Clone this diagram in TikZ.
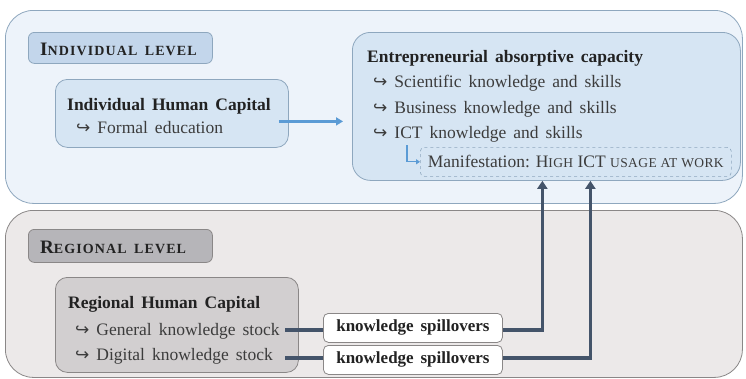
\documentclass[tikz,border=0pt]{standalone}
\usepackage{fontspec}
\setmainfont[WordSpace=1.6]{Liberation Serif}
\newfontfamily\manfont[WordSpace=1.0]{Liberation Serif}
\newfontfamily\symfont{DejaVu Sans}
\usetikzlibrary{arrows.meta}
\definecolor{bluepanel}{HTML}{EDF3FA}
\definecolor{blueborder}{HTML}{8EA7BE}
\definecolor{bluebox}{HTML}{D6E5F3}
\definecolor{bluelabel}{HTML}{C3D6EB}
\definecolor{graypanel}{HTML}{ECE9E9}
\definecolor{grayborder}{HTML}{8A8787}
\definecolor{graylabel}{HTML}{B6B5B9}
\definecolor{graybox}{HTML}{D2CFD0}
\definecolor{darkline}{HTML}{44546A}
\definecolor{bluearrow}{HTML}{5B9BD5}
\definecolor{txt}{HTML}{3C3C3C}
\definecolor{txtb}{HTML}{222222}
\newcommand{\sct}[1]{{\fontsize{14}{16}\selectfont\addfontfeatures{LetterSpace=8}#1}}
\newcommand{\scm}[1]{{\fontsize{13.5}{16}\selectfont\addfontfeatures{LetterSpace=3}#1}}
\newcommand{\hk}{{\symfont\fontsize{17}{15}\selectfont\color{txt}↪}}
\begin{document}
\begin{tikzpicture}[x=1pt,y=-1pt,
  font=\fontsize{17.5}{20}\selectfont,
  panel/.style={draw, line width=0.8pt, inner sep=0pt, anchor=north west},
  lbl/.style={anchor=base west, inner sep=0pt, text=txt},
  lblb/.style={anchor=base west, inner sep=0pt, text=txtb, font=\fontsize{17.5}{20}\selectfont\bfseries},
  bluearr/.style={draw=bluearrow, line width=2.5pt, -{Triangle[width=8pt,length=7pt]}},
  darkarr/.style={draw=darkline, line width=3.5pt, -{Triangle[width=10pt,length=8pt]}},
  darkln/.style={draw=darkline, line width=3.5pt},
  spill/.style={panel, fill=white, draw=grayborder, rounded corners=5pt, minimum width=179pt, minimum height=29pt, text=txtb, font=\fontsize{17}{20}\selectfont\bfseries}
]
\useasboundingbox (0,0) rectangle (746,378);
\fill[white] (0,0) rectangle (746,378);

% panels
\node[panel, fill=bluepanel, draw=blueborder, rounded corners=28pt, minimum width=737pt, minimum height=193pt] (indpanel) at (5,10) {};
\node[panel, fill=graypanel, draw=grayborder, rounded corners=28pt, minimum width=737pt, minimum height=167pt] (regpanel) at (5,210) {};

% level labels
\node[panel, fill=bluelabel, draw=blueborder, rounded corners=6pt, minimum width=184pt, minimum height=31pt] (indlab) at (28,32) {};
\node[lbl, text=txtb, font=\fontsize{19}{20}\selectfont\bfseries] (indlabt) at (40,55) {I\sct{\bfseries NDIVIDUAL LEVEL}};
\node[panel, fill=graylabel, draw=grayborder, rounded corners=6pt, minimum width=184pt, minimum height=33pt] (reglab) at (28,229) {};
\node[lbl, text=txtb, font=\fontsize{19}{20}\selectfont\bfseries] (reglabt) at (40,253) {R\sct{\bfseries EGIONAL LEVEL}};

% individual human capital
\node[panel, fill=bluebox, draw=blueborder, rounded corners=12pt, minimum width=233pt, minimum height=68pt] (ihc) at (55,79) {};
\node[lblb] (ihct) at (67,110) {Individual Human Capital};
\node[lbl] (ihc1) at (76,133) {\hk\ Formal education};

% entrepreneurial absorptive capacity
\node[panel, fill=bluebox, draw=blueborder, rounded corners=18pt, minimum width=388pt, minimum height=148pt] (eac) at (352,32) {};
\node[lblb] (eact) at (367,62) {Entrepreneurial absorptive capacity};
\node[lbl] (eac1) at (373,87) {\hk\ Scientific knowledge and skills};
\node[lbl] (eac2) at (373,113) {\hk\ Business knowledge and skills};
\node[lbl] (eac3) at (373,138) {\hk\ ICT knowledge and skills};
\node[panel, fill=bluebox, draw=blueborder, dashed, line width=0.6pt, rounded corners=4pt, minimum width=311pt, minimum height=29pt, text=txt, font=\manfont\fontsize{17.5}{20}\selectfont] (manif) at (420,147) {Manifestation: H\scm{IGH} ICT \scm{USAGE AT WORK}};
\coordinate (elb) at (407,145);
\draw[draw=bluearrow, line width=1.3pt, -{Triangle[width=5pt,length=4pt]}] (elb) |- (manif.west);

% regional human capital
\node[panel, fill=graybox, draw=grayborder, rounded corners=12pt, minimum width=243pt, minimum height=95pt] (rhc) at (55,277) {};
\node[lblb] (rhct) at (68,308) {Regional Human Capital};
\node[lbl] (rhc1) at (75,335) {\hk\ General knowledge stock};
\node[lbl] (rhc2) at (75,360) {\hk\ Digital knowledge stock};

% spillovers
\node[spill] (sp1) at (323,313) {knowledge spillovers};
\node[spill] (sp2) at (323,345) {knowledge spillovers};

% connectors
\draw[bluearr] ([xshift=-10pt,yshift=-8pt]ihc.east) -- ([xshift=-9pt,yshift=-15pt]eac.west);
\draw[darkln] ([yshift=-2pt]sp1.west) -- ++(-38,0);
\draw[darkln] ([yshift=2pt]sp2.west) -- ++(-38,0);
\draw[darkarr] ([yshift=-2pt]sp1.east) -| ([xshift=-4pt]eac.south);
\draw[darkarr] ([yshift=2pt]sp2.east) -| ([xshift=44pt]eac.south);
\end{tikzpicture}
\end{document}
